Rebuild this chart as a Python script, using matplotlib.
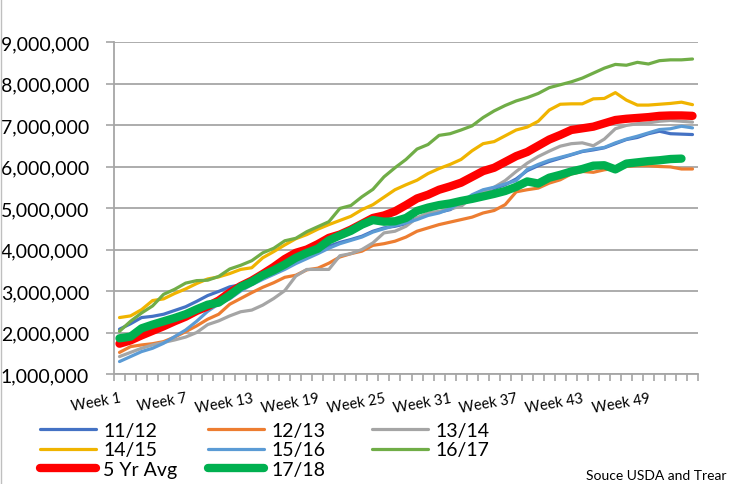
import matplotlib
matplotlib.use('Agg')
import matplotlib.pyplot as plt
from matplotlib.ticker import FuncFormatter, FixedLocator
from matplotlib.lines import Line2D
import numpy as np

plt.rcParams['font.family'] = ['Lato', 'DejaVu Sans']

weeks = list(range(1, 54))
tick_weeks = [1, 7, 13, 19, 25, 31, 37, 43, 49]
tick_labels = [f"Week {w}" for w in tick_weeks]
y_ticks = [1, 2, 3, 4, 5, 6, 7, 8, 9]  # millions

# values in millions
s1112 = [2.08, 2.21, 2.36, 2.39, 2.44, 2.53, 2.62, 2.75, 2.89, 2.99,
         3.10, 3.15, 3.22, 3.30, 3.42, 3.55, 3.70, 3.82, 3.95, 4.08,
         4.17, 4.24, 4.32, 4.44, 4.52, 4.56, 4.62, 4.76, 4.86, 4.90,
         4.96, 5.10, 5.30, 5.42, 5.47, 5.56, 5.70, 5.90, 6.02, 6.12,
         6.20, 6.28, 6.36, 6.40, 6.45, 6.55, 6.65, 6.70, 6.79, 6.85,
         6.79, 6.78, 6.77]
s1213 = [1.52, 1.66, 1.70, 1.73, 1.78, 1.89, 2.02, 2.16, 2.32, 2.44,
         2.68, 2.82, 2.96, 3.09, 3.20, 3.33, 3.38, 3.51, 3.55, 3.67,
         3.82, 3.90, 3.96, 4.10, 4.14, 4.20, 4.30, 4.44, 4.52, 4.60,
         4.66, 4.72, 4.78, 4.88, 4.94, 5.08, 5.39, 5.44, 5.48, 5.60,
         5.68, 5.82, 5.88, 5.86, 5.92, 5.96, 6.00, 6.02, 6.02, 6.00,
         5.99, 5.94, 5.94]
s1314 = [1.42, 1.52, 1.62, 1.70, 1.76, 1.82, 1.89, 2.00, 2.19, 2.28,
         2.40, 2.50, 2.54, 2.66, 2.82, 3.01, 3.36, 3.52, 3.52, 3.52,
         3.85, 3.90, 4.00, 4.16, 4.40, 4.44, 4.56, 4.76, 4.88, 4.92,
         4.98, 5.04, 5.26, 5.39, 5.50, 5.66, 5.88, 6.08, 6.24, 6.37,
         6.49, 6.55, 6.57, 6.50, 6.66, 6.91, 6.99, 7.03, 7.05, 7.09,
         7.11, 7.09, 7.07]
s1415 = [2.36, 2.40, 2.55, 2.77, 2.81, 2.94, 3.05, 3.18, 3.29, 3.34,
         3.42, 3.52, 3.56, 3.80, 3.95, 4.11, 4.26, 4.36, 4.49, 4.60,
         4.70, 4.80, 4.96, 5.08, 5.26, 5.44, 5.56, 5.67, 5.83, 5.95,
         6.05, 6.17, 6.38, 6.55, 6.60, 6.74, 6.88, 6.95, 7.09, 7.36,
         7.50, 7.51, 7.51, 7.63, 7.64, 7.78, 7.60, 7.48, 7.48, 7.50,
         7.52, 7.55, 7.49]
s1516 = [1.30, 1.42, 1.54, 1.62, 1.74, 1.90, 2.06, 2.27, 2.51, 2.69,
         2.81, 3.00, 3.15, 3.28, 3.40, 3.52, 3.66, 3.78, 3.90, 4.03,
         4.14, 4.22, 4.30, 4.42, 4.50, 4.58, 4.64, 4.72, 4.82, 4.88,
         4.98, 5.14, 5.32, 5.44, 5.50, 5.58, 5.66, 5.93, 6.05, 6.15,
         6.22, 6.29, 6.37, 6.42, 6.46, 6.57, 6.66, 6.73, 6.81, 6.89,
         6.91, 6.97, 6.93]
s1617 = [2.03, 2.27, 2.47, 2.64, 2.92, 3.04, 3.19, 3.25, 3.26, 3.35,
         3.53, 3.62, 3.73, 3.92, 4.03, 4.21, 4.27, 4.43, 4.55, 4.67,
         4.99, 5.06, 5.27, 5.45, 5.75, 5.97, 6.17, 6.42, 6.53, 6.75,
         6.79, 6.88, 6.98, 7.18, 7.34, 7.47, 7.58, 7.66, 7.76, 7.90,
         7.97, 8.04, 8.13, 8.25, 8.37, 8.46, 8.44, 8.51, 8.47, 8.55,
         8.57, 8.57, 8.59]
avg5 = [1.73, 1.81, 1.93, 2.04, 2.15, 2.27, 2.38, 2.52, 2.63, 2.77,
        2.96, 3.12, 3.25, 3.41, 3.58, 3.77, 3.92, 4.00, 4.13, 4.28,
        4.36, 4.48, 4.62, 4.76, 4.82, 4.92, 5.07, 5.23, 5.32, 5.44,
        5.52, 5.61, 5.75, 5.89, 5.97, 6.11, 6.25, 6.35, 6.50, 6.65,
        6.76, 6.88, 6.92, 6.96, 7.04, 7.12, 7.15, 7.17, 7.19, 7.22,
        7.23, 7.23, 7.22]
s1718 = [1.86, 1.90, 2.10, 2.19, 2.27, 2.35, 2.44, 2.56, 2.67, 2.72,
         2.90, 3.10, 3.22, 3.38, 3.50, 3.64, 3.80, 3.92, 4.02, 4.22,
         4.34, 4.45, 4.60, 4.71, 4.67, 4.68, 4.76, 4.93, 5.01, 5.07,
         5.11, 5.17, 5.22, 5.28, 5.34, 5.41, 5.51, 5.64, 5.59, 5.73,
         5.80, 5.88, 5.94, 6.02, 6.03, 5.93, 6.07, 6.10, 6.13, 6.15,
         6.18, 6.19]

series = [
    ("11/12", s1112, "#4472C4", 2.3),
    ("12/13", s1213, "#ED7D31", 2.3),
    ("13/14", s1314, "#A5A5A5", 2.3),
    ("14/15", s1415, "#F0B400", 2.3),
    ("15/16", s1516, "#5B9BD5", 2.3),
    ("16/17", s1617, "#70AD47", 2.3),
    ("5 Yr Avg", avg5, "#FF0000", 6.0),
    ("17/18", s1718, "#00B050", 6.0),
]

W, H = 729, 485
fig = plt.figure(figsize=(W / 100, H / 100), dpi=100)
ax = fig.add_axes([114 / W, 1 - 375 / H, (698 - 114) / W, (375 - 43) / H])

handles = {}
for name, vals, col, lw in series:
    x = weeks[:len(vals)]
    y = np.array(vals) * 1_000_000
    ln, = ax.plot(x, y, color=col, lw=lw, solid_capstyle='round',
                  solid_joinstyle='round', label=name)
    handles[name] = ln

ax.set_xlim(0.5, len(weeks) + 0.5)
ax.set_ylim(1_000_000, 9_000_000)
ax.set_yticks([v * 1_000_000 for v in y_ticks])
ax.yaxis.set_major_formatter(FuncFormatter(lambda v, p: f"{v:,.0f}"))
ax.grid(axis='y', color='#A6A6A6', lw=1.3)
ax.set_axisbelow(True)

ax.set_xticks(tick_weeks)
ax.set_xticklabels(tick_labels, rotation=10, ha='right', va='top',
                   rotation_mode='anchor', fontsize=10.5)
ax.xaxis.set_minor_locator(FixedLocator(np.arange(0.5, len(weeks) + 1, 1)))
ax.tick_params(axis='x', which='major', length=0, pad=12)
ax.tick_params(axis='x', which='minor', length=5, color='#A6A6A6', width=1.2)
ax.tick_params(axis='y', length=6, color='#A6A6A6', width=1.2, labelsize=14, pad=12)

for s in ['top', 'right']:
    ax.spines[s].set_visible(False)
ax.spines['left'].set_color('#A6A6A6')
ax.spines['bottom'].set_color('#A6A6A6')
ax.spines['left'].set_linewidth(1.3)
ax.spines['bottom'].set_linewidth(1.3)

columns = [
    (40, ["11/12", "14/15", "5 Yr Avg"]),
    (208, ["12/13", "15/16", "17/18"]),
    (372, ["13/14", "16/17"]),
]
for x0, names in columns:
    fig.legend([handles[n] for n in names], names, loc='upper left',
               bbox_to_anchor=(x0 / W, 1 - 423 / H), ncol=1, frameon=False,
               fontsize=14, handlelength=2.9, handletextpad=0.35,
               labelspacing=0.12, borderaxespad=0, borderpad=0)

fig.text(727 / W, 1 - 476 / H, "Souce USDA and Trear", fontsize=10,
         ha='right', va='center')

fig.add_artist(Line2D([0.5 / W, 0.5 / W], [0, 1], color='#BFBFBF', lw=1))

fig.savefig('out.png', dpi=100)
